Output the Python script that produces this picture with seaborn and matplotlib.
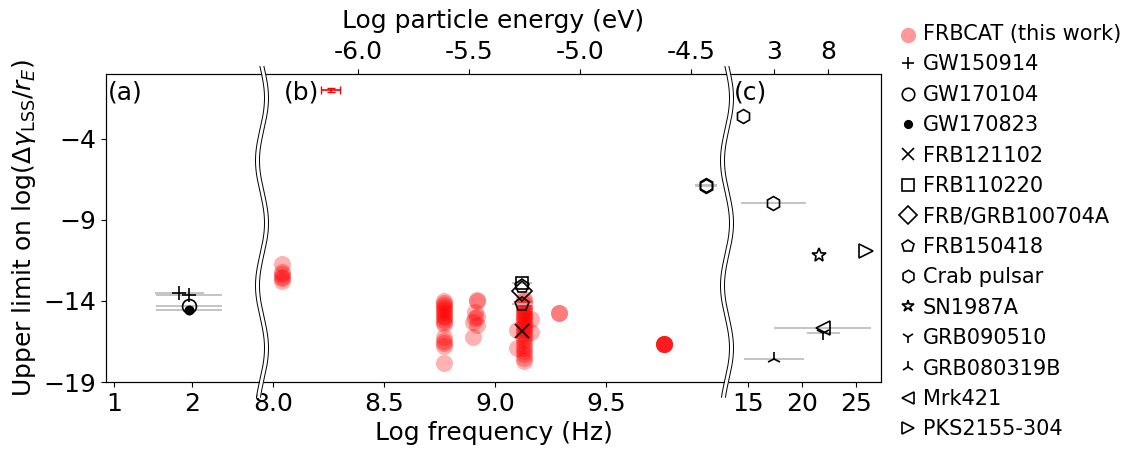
import numpy as np
import matplotlib
matplotlib.use("Agg")
import matplotlib.pyplot as plt
import seaborn as sns

# FRBCAT points: log frequency (Hz) and upper limit on log(dgamma/r_E)
frb_freq = ([8.04] * 6
            + [8.77] * 17
            + [8.92, 8.92, 8.91, 8.92, 8.91, 8.90, 8.92, 8.90]
            + [9.13] * 25 + [9.10, 9.10, 9.16, 9.16]
            + [9.29, 9.29]
            + [9.76] * 6)
frb_limit = ([-11.7, -12.2, -12.35, -12.5, -12.6, -12.8]
             + [-14.0, -14.1, -14.25, -14.35, -14.5, -14.6, -14.75, -14.9, -15.0,
                -15.15, -15.3, -15.45, -16.25, -16.45, -16.6, -16.75, -17.8]
             + [-13.95, -14.0, -14.7, -15.0, -15.05, -15.3, -15.5, -16.2]
             + [-13.85, -14.0, -14.2, -14.35, -14.5, -14.6, -14.75, -14.9, -15.0,
                -15.1, -15.25, -15.4, -15.5, -15.65, -15.8, -15.95, -16.1, -16.3,
                -16.5, -16.7, -16.9, -17.1, -17.3, -17.5, -17.7]
             + [-15.8, -16.9, -15.1, -15.9]
             + [-14.74, -14.74]
             + [-16.65] * 6)

# example error bar shown next to panel (b)
example_freq = [8.26]
example_limit = [-1.0]
example_ferr = [0.043]

# gravitational wave events
gw150914_freq = [1.84, 1.96]
gw150914_limit = [-13.49, -13.65]
gw150914_ferr = [0.32, 0.42]
gw170104_freq = [1.96]
gw170104_limit = [-14.3]
gw170104_ferr = [0.42]
gw170823_freq = [1.96]
gw170823_limit = [-14.55]
gw170823_ferr = [0.42]

# individual FRBs
frb121102_freq = [9.12]
frb121102_limit = [-15.85]
frb110220_freq = [9.12]
frb110220_limit = [-12.9]
frb110220_ferr = [0.045]
frb100704a_freq = [9.12]
frb100704a_limit = [-13.38]
frb150418_freq = [9.12, 9.12]
frb150418_limit = [-13.05, -14.2]
frb150418_ferr = [0.0, 0.045]

# other sources
crab_freq = [9.95, 9.95, 14.56, 17.35]
crab_limit = [-6.82, -6.9, -2.62, -7.93]
crab_ferr = [0.05, 0.05, 0.0, 3.0]
sn1987a_freq = [21.6]
sn1987a_limit = [-11.16]
grb090510_freq = [21.95]
grb090510_limit = [-16.0]
grb090510_ferr = [1.53]
grb080319b_freq = [17.42]
grb080319b_limit = [-17.6]
grb080319b_ferr = [2.8]
mrk421_freq = [21.92]
mrk421_limit = [-15.69]
mrk421_ferr = [4.47]
pks2155_freq = [25.9]
pks2155_limit = [-10.9]

x_ticks = [1, 2, 8.0, 8.5, 9.0, 9.5, 15, 20, 25]
x_ticklabels = ["1", "2", "8.0", "8.5", "9.0", "9.5", "15", "20", "25"]
y_ticks = [-4, -9, -14, -19]
energy_ticks = [-6.0, -5.5, -5.0, -4.5, 3, 8]
energy_ticklabels = ["-6.0", "-5.5", "-5.0", "-4.5", "3", "8"]
LOG_H_EV = np.log10(4.135667e-15)  # log10 of Planck constant in eV s

# broken x axis: three linear pieces glued together
SEG_X = [0.897, 2.9, 7.95, 10.045, 13.06, 27.3]
SEG_U = [0.0, 156.0, 156.001, 621.0, 621.001, 775.0]


def fwd(x):
    return np.interp(x, SEG_X, SEG_U)


def inv(u):
    return np.interp(u, SEG_U, SEG_X)


def plot_source(ax, freq, limit, ferr, marker, label, ms=10, filled=False):
    if ferr is not None:
        ax.errorbar(freq, limit, xerr=ferr, fmt="none", ecolor="0.75",
                    elinewidth=1.3, zorder=3)
    line, = ax.plot(freq, limit, linestyle="none", marker=marker, ms=ms,
                    mfc="black" if filled else "none", mec="black", mew=1.2,
                    label=label, zorder=4)
    return line


def draw_break(ax, xc):
    # wavy double line marking the axis break
    yf = np.linspace(-0.05, 1.025, 300)
    amp = 4.5 / 775
    gap = 2.0 / 775
    off = amp * np.cos(2 * np.pi * (yf - 0.516) / 0.406)
    ax.fill_betweenx(yf, xc + off - gap, xc + off + gap, color="white",
                     transform=ax.transAxes, clip_on=False, zorder=10, lw=0)
    for s in (-gap, gap):
        ax.plot(xc + off + s, yf, color="black", lw=0.7,
                transform=ax.transAxes, clip_on=False, zorder=11)


sns.set_style("ticks", {"axes.edgecolor": "black", "xtick.color": "black",
                        "ytick.color": "black", "text.color": "black",
                        "axes.labelcolor": "black"})
plt.rcParams["font.family"] = ["DejaVu Sans"]

fig = plt.figure(figsize=(11.37, 4.59), dpi=100)
ax = fig.add_axes([106 / 1137, 77 / 459, 775 / 1137, 308 / 459])
ax.set_xscale("function", functions=(fwd, inv))

handles = []
sns.scatterplot(x=frb_freq, y=frb_limit, color="red", alpha=0.3, s=150,
                linewidth=0, ax=ax, zorder=2)
handles.append(ax.scatter([], [], color="red", alpha=0.4, s=150, linewidth=0,
                          label="FRBCAT (this work)"))
ax.errorbar(example_freq, example_limit, xerr=example_ferr, yerr=0.12,
            fmt="none", ecolor="red", elinewidth=1.2, capsize=3)

handles.append(plot_source(ax, gw150914_freq, gw150914_limit, gw150914_ferr, "+", "GW150914"))
handles.append(plot_source(ax, gw170104_freq, gw170104_limit, gw170104_ferr, "o", "GW170104"))
handles.append(plot_source(ax, gw170823_freq, gw170823_limit, gw170823_ferr, "o", "GW170823",
                           ms=6, filled=True))
handles.append(plot_source(ax, frb121102_freq, frb121102_limit, None, "x", "FRB121102"))
handles.append(plot_source(ax, frb110220_freq, frb110220_limit, frb110220_ferr, "s", "FRB110220",
                           ms=9))
handles.append(plot_source(ax, frb100704a_freq, frb100704a_limit, None, "D", "FRB/GRB100704A",
                           ms=10))
handles.append(plot_source(ax, frb150418_freq, frb150418_limit, frb150418_ferr, "p", "FRB150418"))
handles.append(plot_source(ax, crab_freq, crab_limit, crab_ferr, "h", "Crab pulsar"))
handles.append(plot_source(ax, sn1987a_freq, sn1987a_limit, None, "*", "SN1987A"))
handles.append(plot_source(ax, grb090510_freq, grb090510_limit, grb090510_ferr, "1", "GRB090510"))
handles.append(plot_source(ax, grb080319b_freq, grb080319b_limit, grb080319b_ferr, "2", "GRB080319B"))
handles.append(plot_source(ax, mrk421_freq, mrk421_limit, mrk421_ferr, "<", "Mrk421"))
handles.append(plot_source(ax, pks2155_freq, pks2155_limit, None, ">", "PKS2155-304"))

ax.set_xlim(SEG_X[0], SEG_X[-1])
ax.set_ylim(-19, 0)
ax.set_xticks(x_ticks)
ax.set_xticklabels(x_ticklabels)
ax.set_yticks(y_ticks)
ax.tick_params(labelsize=18)
ax.set_xlabel("Log frequency (Hz)", fontsize=18)
ax.set_ylabel(r"Upper limit on log($\Delta\gamma_{\rm LSS}/r_E$)", fontsize=18)

ax.text(0.003, 0.94, "(a)", transform=ax.transAxes, fontsize=18, va="center")
ax.text(0.229, 0.94, "(b)", transform=ax.transAxes, fontsize=18, va="center")
ax.text(0.81, 0.94, "(c)", transform=ax.transAxes, fontsize=18, va="center")

# top axis: particle energy E = h * nu
ax_top = ax.twiny()
ax_top.set_xscale("function", functions=(fwd, inv))
ax_top.set_xlim(ax.get_xlim())
ax_top.set_xticks([e - LOG_H_EV for e in energy_ticks])
ax_top.set_xticklabels(energy_ticklabels)
ax_top.tick_params(labelsize=18)
ax_top.set_xlabel("Log particle energy (eV)", fontsize=18, labelpad=9)

draw_break(ax_top, 156 / 775)
draw_break(ax_top, 621 / 775)

fig.legend(handles=handles, loc="upper left", bbox_to_anchor=(900 / 1137, 1 - 24 / 459),
           frameon=False, fontsize=15, handlelength=0.8, handletextpad=0.3,
           labelspacing=0.5, borderpad=0, borderaxespad=0, markerscale=0.9)

fig.savefig("out.png", dpi=100)
